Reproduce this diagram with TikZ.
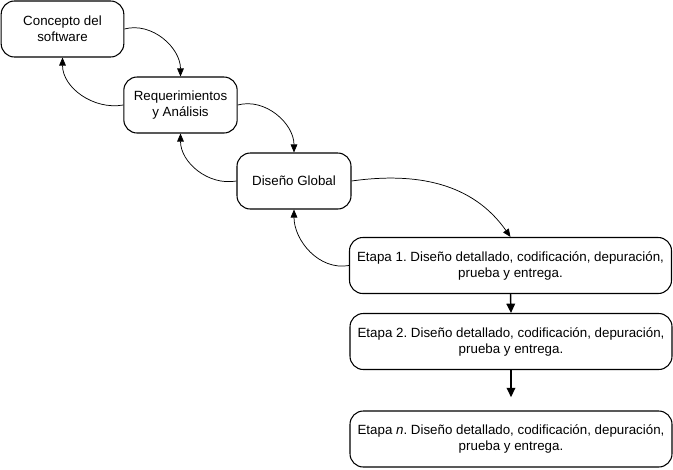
\documentclass[tikz,border=0pt]{standalone}
\usepackage{fontspec}
\setmainfont{Liberation Sans}
\usetikzlibrary{arrows.meta}
\frenchspacing
\begin{document}
\begin{tikzpicture}[x=0.75pt,y=-0.75pt,
  box/.style={draw, rounded corners=10pt, line width=0.8pt, align=center, inner sep=0pt,
    font=\fontsize{10pt}{12pt}\selectfont},
  curv/.style={line width=0.55pt, -{Triangle[length=6pt,width=5pt]}},
  strt/.style={line width=1.1pt, -{Triangle[length=7pt,width=6.5pt]}}]
\useasboundingbox (0,0) rectangle (673,469);
\node[box, minimum width=92pt, minimum height=42pt] (a) at (62.5,29) {Concepto del\\software};
\node[box, minimum width=85pt, minimum height=42pt] (b) at (180.5,105) {Requerimientos\\y Análisis};
\node[box, minimum width=85.5pt, minimum height=42pt] (c) at (294,181) {Diseño Global};
\node[box, minimum width=241.5pt, minimum height=42pt] (d) at (510.5,265.5) {Etapa 1. Diseño detallado, codificación, depuración,\\prueba y entrega.};
\node[box, minimum width=241.5pt, minimum height=42pt] (e) at (511,341.5) {Etapa 2. Diseño detallado, codificación, depuración,\\prueba y entrega.};
\node[box, minimum width=241.5pt, minimum height=42pt] (f) at (511,439) {Etapa \textit{n}. Diseño detallado, codificación, depuración,\\prueba y entrega.};
\draw[curv] (a.east) to[out=15,in=90] (b.north);
\draw[curv] (b.west) to[out=190,in=-90] (a.south);
\draw[curv] (b.east) to[out=15,in=90] (c.north);
\draw[curv] (c.west) to[out=190,in=-90] (b.south);
\draw[curv] (c.east) to[out=8,in=125] (d.north);
\draw[curv] (d.west) to[out=190,in=-90] (c.south);
\draw[strt] (d.south) -- (e.north);
\draw[strt, shorten >=10pt] (e.south) -- (f.north);
\end{tikzpicture}
\end{document}
